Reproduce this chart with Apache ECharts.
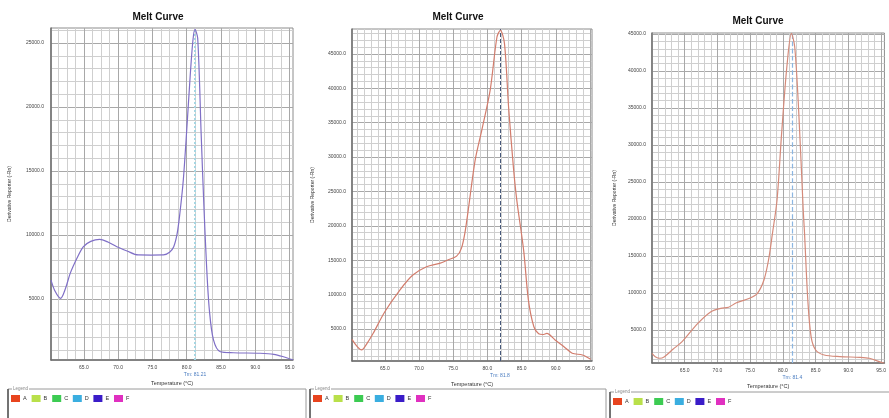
<!DOCTYPE html>
<html><head><meta charset="utf-8">
<script src="https://cdn.jsdelivr.net/npm/echarts@6/dist/echarts.min.js"></script>
<style>html,body{margin:0;padding:0;background:#fff}#c{width:889px;height:418px}</style>
</head><body><div id="c"></div>
<script>
// ---------- data ----------
const chartTitle = 'Melt Curve';
const xName = 'Temperature (\u00b0C)';
const yName = 'Derivative Reporter (-Rn)';
const xTickLabels = [65, 70, 75, 80, 85, 90, 95];
const yTickLabels1 = [5000, 10000, 15000, 20000, 25000];
const yTickLabels2 = [5000, 10000, 15000, 20000, 25000, 30000, 35000, 40000, 45000];
const yTickLabels3 = [5000, 10000, 15000, 20000, 25000, 30000, 35000, 40000, 45000];

const temps1 = [60.2, 60.8, 61.6, 62.3, 63.0, 64.0, 64.9, 66.0, 67.3, 68.5, 69.8, 71.3, 72.9, 74.8, 76.6, 77.5, 78.1, 78.6, 79.0, 79.5, 80.0, 80.5, 80.9, 81.2, 81.6, 82.1, 82.5, 82.9, 83.3, 83.9, 84.9, 86.8, 90.7, 92.7, 94.1, 95.5];
const vals1  = [6480, 5600, 5050, 5800, 7000, 8200, 9080, 9500, 9660, 9450, 9080, 8750, 8440, 8430, 8440, 8650, 9080, 10100, 11700, 14300, 18200, 22400, 25200, 26060, 25360, 17940, 12300, 7520, 4140, 1800, 880, 800, 760, 680, 490, 240];

const temps2 = [60.2, 61.0, 61.6, 62.4, 63.3, 65.0, 67.2, 69.1, 71.1, 73.0, 74.2, 75.5, 76.2, 76.7, 77.2, 78.2, 79.2, 80.4, 81.4, 81.9, 82.5, 83.1, 83.8, 84.3, 85.3, 86.0, 86.8, 87.5, 88.1, 88.7, 89.9, 91.2, 92.4, 93.9, 95.1];
const vals2  = [3500, 2400, 1950, 2900, 4370, 7510, 10670, 12850, 14050, 14550, 15030, 15600, 16730, 18900, 22290, 29500, 34000, 39700, 47470, 48440, 46500, 37300, 28580, 23740, 16480, 9210, 5330, 4300, 4200, 4350, 3400, 2430, 1470, 1220, 600];

const temps3 = [60.0, 60.5, 61.2, 61.9, 63.2, 64.6, 67.0, 69.0, 70.5, 71.7, 72.9, 74.9, 76.1, 77.1, 77.8, 78.4, 79.1, 79.8, 80.6, 81.3, 81.8, 82.4, 83.1, 83.3, 83.8, 84.3, 85.0, 86.3, 88.7, 91.7, 93.2, 94.7, 95.5];
const vals3  = [1850, 1400, 1180, 1400, 2400, 3420, 5900, 7480, 7930, 8070, 8690, 9280, 9960, 11760, 14460, 18060, 22560, 31570, 40570, 45080, 43270, 34720, 21210, 18060, 9050, 4100, 2300, 1620, 1400, 1310, 1180, 720, 500];

const tmValues = [81.21, 81.84, 81.45];
const tmLabels = ['Tm: 81.21', 'Tm: 81.8', 'Tm: 81.4'];
const legendNames = ['A', 'B', 'C', 'D', 'E', 'F'];
const legendColors = ['#e8441e', '#b9e04a', '#3ccb52', '#3aaee0', '#3a1cc8', '#e030c0'];

// ---------- layout / style ----------
const FONT = 'Liberation Sans, Arial, sans-serif';
const panels = [
  {left:51, top:28, width:242, height:332, xmin:60.2, xmax:95.5, ymin:234, ymax:26172, xstep:1.25,
   temps:temps1, vals:vals1, yLabels:yTickLabels1, color:'#7f6fc6', tmColor:'#a6d6e2', tmType:'dotted', tmWidth:2,
   titleX:158, titleY:17, yNameGap:39, yLabelMargin:7, lg:{l:8, r:306, t:389}},
  {left:352, top:29, width:240, height:332, xmin:60.2, xmax:95.3, ymin:345, ymax:48636, xstep:1,
   temps:temps2, vals:vals2, yLabels:yTickLabels2, color:'#d27c6c', tmColor:'#46587a', tmType:'dashed', tmWidth:1,
   titleX:458, titleY:17, yNameGap:37, yLabelMargin:6, lg:{l:310, r:606, t:389}},
  {left:652, top:33, width:240, height:330, xmin:60.0, xmax:95.5, ymin:540, ymax:45135, xstep:1,
   temps:temps3, vals:vals3, yLabels:yTickLabels3, color:'#d48a7a', tmColor:'#8cb6e2', tmType:'dashed', tmWidth:1.2,
   titleX:758, titleY:21, yNameGap:35, yLabelMargin:6, lg:{l:610, r:900, t:392}}
];
const MINOR = '#cfcfcf', MAJOR = '#a8a8a8';

function steps(min, max, step) {
  const a = [];
  for (let v = Math.ceil(min / step - 1e-9) * step; v <= max + 1e-9; v += step) a.push(+v.toFixed(4));
  return a;
}

const grid = [], xAxis = [], yAxis = [], series = [], graphic = [];
panels.forEach((p, i) => {
  grid.push({left:p.left, top:p.top, width:p.width, height:p.height, show:true,
             borderColor:'#8c8c8c', borderWidth:1, containLabel:false});
  xAxis.push({type:'value', gridIndex:i, min:p.xmin, max:p.xmax,
    name:xName, nameLocation:'middle', nameGap:20,
    nameTextStyle:{fontSize:5.5, color:'#333', fontFamily:FONT},
    axisLine:{show:true, onZero:false, lineStyle:{color:'#6e6e6e', width:1.5}},
    axisTick:{show:false, customValues:steps(p.xmin, p.xmax, p.xstep)},
    axisLabel:{customValues:xTickLabels, fontSize:5, color:'#444', margin:5, fontFamily:FONT,
               formatter:v => v.toFixed(1)},
    splitLine:{show:true, lineStyle:{color:MINOR, width:1}}
  });
  yAxis.push({type:'value', gridIndex:i, min:p.ymin, max:p.ymax,
    name:yName, nameLocation:'middle', nameGap:p.yNameGap,
    nameTextStyle:{fontSize:5, color:'#333', fontFamily:FONT},
    axisLine:{show:true, onZero:false, lineStyle:{color:'#6e6e6e', width:1.5}},
    axisTick:{show:false, customValues:steps(p.ymin, p.ymax, 1000)},
    axisLabel:{customValues:p.yLabels, fontSize:5, color:'#444', margin:p.yLabelMargin, fontFamily:FONT,
               formatter:v => v.toFixed(1)},
    splitLine:{show:true, lineStyle:{color:MINOR, width:1}}
  });
  series.push({type:'line', xAxisIndex:i, yAxisIndex:i,
    data:p.temps.map((t, k) => [t, p.vals[k]]),
    showSymbol:false, smooth:0.3, lineStyle:{color:p.color, width:1.2}, itemStyle:{color:p.color},
    silent:true, animation:false, z:5,
    markLine:{silent:true, symbol:['none','none'], animation:false,
      lineStyle:{color:p.tmColor, type:p.tmType, width:p.tmWidth},
      label:{show:true, position:'start', formatter:tmLabels[i], fontSize:5, color:'#4a7cc0', distance:12, fontFamily:FONT},
      data:[{xAxis:tmValues[i]}]}
  });
  graphic.push({type:'text', x:p.titleX, y:p.titleY, silent:true,
    style:{text:chartTitle, font:'bold 10px ' + FONT, fill:'#111', textAlign:'center', textVerticalAlign:'middle'}});
  const L = p.lg;
  graphic.push({type:'polyline', silent:true, shape:{points:[[L.l, 418], [L.l, L.t], [L.r, L.t], [L.r, 418]]},
    style:{stroke:'#9a9a9a', lineWidth:1, fill:null}});
  graphic.push({type:'line', silent:true, shape:{x1:L.l, y1:L.t, x2:L.l, y2:418},
    style:{stroke:'#555', lineWidth:1.5}});
  graphic.push({type:'text', x:L.l + 4, y:L.t, silent:true,
    style:{text:'Legend', font:'4.5px ' + FONT, fill:'#888', textVerticalAlign:'middle',
           backgroundColor:'#fff', padding:[0, 1]}});
  legendNames.forEach((n, k) => {
    const x0 = L.l + 3 + k * 20.6;
    graphic.push({type:'rect', silent:true, shape:{x:x0, y:L.t + 6, width:9, height:7},
      style:{fill:legendColors[k]}});
    graphic.push({type:'text', x:x0 + 12, y:L.t + 9.5, silent:true,
      style:{text:n, font:'5.5px ' + FONT, fill:'#333', textVerticalAlign:'middle'}});
  });
});
panels.forEach((p, i) => {
  xAxis.push({type:'value', gridIndex:i, min:p.xmin, max:p.xmax, position:'bottom',
    axisLine:{show:false}, axisLabel:{show:false},
    axisTick:{show:false, customValues:xTickLabels},
    splitLine:{show:true, lineStyle:{color:MAJOR, width:1}}});
  yAxis.push({type:'value', gridIndex:i, min:p.ymin, max:p.ymax, position:'left',
    axisLine:{show:false}, axisLabel:{show:false},
    axisTick:{show:false, customValues:p.yLabels},
    splitLine:{show:true, lineStyle:{color:MAJOR, width:1}}});
});

const chart = echarts.init(document.getElementById('c'), null, {renderer:'canvas'});
chart.setOption({animation:false, backgroundColor:'#fff', grid, xAxis, yAxis, series, graphic});
</script></body></html>
